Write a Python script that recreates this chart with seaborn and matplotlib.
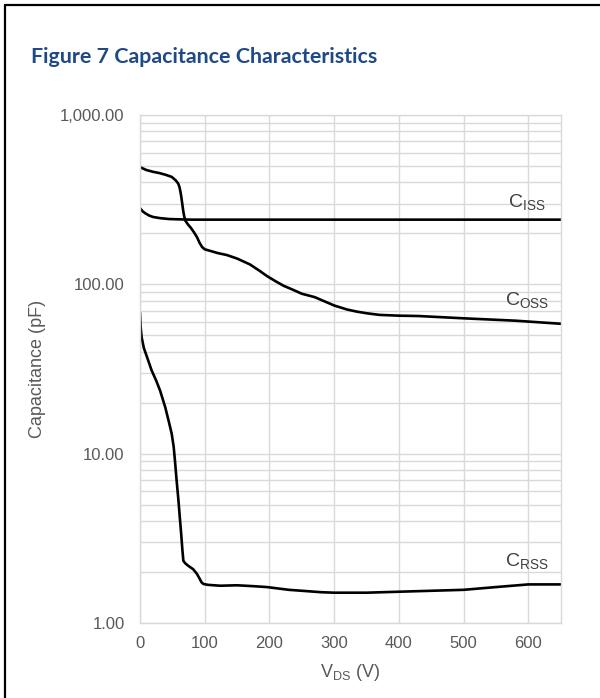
import numpy as np
import pandas as pd
import seaborn as sns
import matplotlib
matplotlib.use("Agg")
import matplotlib.pyplot as plt
from matplotlib.ticker import FuncFormatter, FixedLocator, NullFormatter
from matplotlib.lines import Line2D

# ---- data ----
ciss_v = [0, 4, 8, 14, 20, 31, 45, 60, 80, 100, 200, 300, 400, 500, 600, 650]
ciss_c = [282, 270, 263, 255, 250, 246, 243, 242, 241, 241, 241, 241, 241, 241, 241, 241]

coss_v = [0, 10, 20, 30, 40, 49, 55, 59, 61, 62.5, 64, 65.5, 67, 68.5, 70, 74, 78, 83,
          88, 92, 96, 100, 110, 120, 134, 150, 170, 185, 196, 210, 222, 236, 250, 270,
          300, 320, 335, 350, 370, 400, 430, 500, 580, 650]
coss_c = [492, 473, 462, 454, 443, 431, 412, 394, 375, 352, 325, 295, 268, 250, 238, 226, 217, 204,
          190, 176, 166, 161, 157, 153, 149, 142, 131, 120, 112, 104, 98, 93, 88, 84,
          75, 71, 69, 67.5, 66, 65.3, 65, 63, 61, 58.5]

crss_v = [0, 1, 2.6, 6, 10, 18, 25, 31, 39, 45, 49, 52, 54, 56.5, 59.4, 61.5, 63.6, 65.5, 67, 70,
          75, 82, 88, 92, 95, 98, 105, 124, 150, 175, 196, 230, 260, 280, 300, 350, 400, 450, 500,
          550, 600, 650]
crss_c = [68, 56, 48.5, 42, 38, 31, 27, 23.6, 18.8, 15.2, 13.1, 11, 9.1, 7.0, 5.3, 4.2, 3.37, 2.7, 2.33, 2.25,
          2.17, 2.08, 1.95, 1.83, 1.74, 1.70, 1.68, 1.66, 1.67, 1.65, 1.63, 1.57, 1.54, 1.52, 1.51, 1.51,
          1.53, 1.55, 1.57, 1.63, 1.69, 1.69]

x_ticks = [0, 100, 200, 300, 400, 500, 600]
y_ticks = [1, 10, 100, 1000]

labels = [("C$_{\\mathrm{ISS}}$", 598, 285),
          ("C$_{\\mathrm{OSS}}$", 598, 75),
          ("C$_{\\mathrm{RSS}}$", 598, 2.15)]

title = "Figure 7 Capacitance Characteristics"

df = pd.concat([
    pd.DataFrame({"V": ciss_v, "C": ciss_c, "s": "Ciss"}),
    pd.DataFrame({"V": coss_v, "C": coss_c, "s": "Coss"}),
    pd.DataFrame({"V": crss_v, "C": crss_c, "s": "Crss"}),
])

sns.set_theme(style="white")
plt.rcParams['font.family'] = ['Liberation Sans', 'DejaVu Sans']
plt.rcParams['mathtext.fontset'] = 'custom'
plt.rcParams['mathtext.rm'] = 'Liberation Sans'

W, H = 600, 698
fig = plt.figure(figsize=(W / 100, H / 100), dpi=100)
ax = fig.add_axes([140 / W, 1 - 623 / H, 420.7 / W, 508 / H])

sns.lineplot(data=df, x="V", y="C", units="s", estimator=None, color="black",
             linewidth=1.9, ax=ax, legend=False, sort=False)
for ln in ax.lines:
    ln.set_solid_joinstyle("round")
    ln.set_solid_capstyle("round")

ax.set_yscale("log")
ax.set_xlim(0, 650)
ax.set_ylim(1, 1000)
ax.xaxis.set_major_locator(FixedLocator(x_ticks))
ax.yaxis.set_major_locator(FixedLocator(y_ticks))
minor = [m * 10 ** e for e in range(0, 3) for m in range(2, 10)]
ax.yaxis.set_minor_locator(FixedLocator(minor))
ax.yaxis.set_minor_formatter(NullFormatter())
ax.yaxis.set_major_formatter(FuncFormatter(lambda v, p: f"{v:,.2f}"))

gc = "#d9d9d9"
ax.grid(True, which="major", axis="both", color=gc, linewidth=1.0)
ax.grid(True, which="minor", axis="y", color=gc, linewidth=1.0)
ax.set_axisbelow(True)
for sp in ax.spines.values():
    sp.set_color(gc)
    sp.set_linewidth(1.0)

tc = "#595959"
ax.tick_params(axis="both", which="both", length=0, colors=tc, labelsize=12)
ax.tick_params(axis="y", pad=11)
ax.tick_params(axis="x", pad=9)

ax.set_xlabel("V$_{\\mathrm{DS}}$ (V)", color=tc, fontsize=13, labelpad=8)
ax.set_ylabel("Capacitance (pF)", color=tc, fontsize=13, labelpad=10)

for txt, xv, yv in labels:
    ax.text(xv, yv, txt, ha="center", va="baseline", fontsize=14, color="#404040")

fig.text(31 / W, 1 - 57 / H, title, ha="left", va="center", fontsize=15.4,
         fontweight="bold", color="#1F4A85", family=["Lato", "DejaVu Sans"])

fig.add_artist(Line2D([5 / W, 1], [1 - 5 / H, 1 - 5 / H], transform=fig.transFigure,
                      color="black", linewidth=1.6))
fig.add_artist(Line2D([5 / W, 5 / W], [0, 1 - 5 / H], transform=fig.transFigure,
                      color="black", linewidth=1.6))

fig.savefig("out.png", dpi=100, facecolor="white")
